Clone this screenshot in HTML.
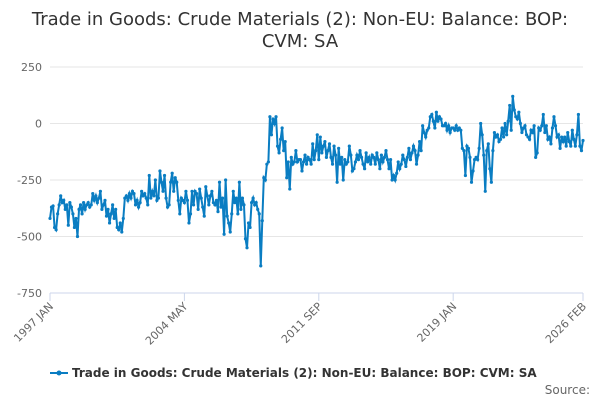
<!DOCTYPE html>
<html><head><meta charset="utf-8">
<style>
body{margin:0;background:#fff;width:600px;height:400px;overflow:hidden;font-family:"Liberation Sans","DejaVu Sans",sans-serif}
svg text{font-family:"DejaVu Sans","Liberation Sans",sans-serif}
</style></head><body>
<svg id="chart" width="600" height="400">
<text x="300" y="25" text-anchor="middle" font-size="18" fill="#333">Trade in Goods: Crude Materials (2): Non-EU: Balance: BOP:</text>
<text x="300" y="47" text-anchor="middle" font-size="18" fill="#333">CVM: SA</text>
<g id="grid"></g><g id="axes"></g><g id="series"></g>
<g>
<line x1="50" y1="373" x2="68" y2="373" stroke="#0a7dc2" stroke-width="2"/>
<circle cx="59" cy="373" r="2.5" fill="#0a7dc2"/>
<text x="72" y="377" font-size="12" font-weight="bold" fill="#333">Trade in Goods: Crude Materials (2): Non-EU: Balance: BOP: CVM: SA</text>
</g>
<text x="590" y="394" text-anchor="end" font-size="12" fill="#666">Source:</text>
</svg>
<script>
const yTicks=[250,0,-250,-500,-750];
const xTickLabels=["1997 JAN","2004 MAY","2011 SEP","2019 JAN","2026 FEB"];
const xTickIndex=[0,88,176,264,349];
const values=[
-420,-370,-365,-460,-470,-400,-360,-320,-350,-340,-380,-360,
-450,-350,-370,-400,-460,-420,-500,-380,-360,-400,-350,-380,
-360,-350,-370,-360,-310,-340,-320,-350,-330,-300,-380,-360,
-340,-410,-380,-440,-400,-360,-420,-380,-460,-470,-440,-480,
-420,-330,-320,-340,-310,-330,-300,-310,-360,-340,-370,-350,
-300,-320,-310,-330,-360,-230,-330,-300,-320,-250,-340,-330,
-210,-260,-300,-230,-330,-370,-360,-260,-220,-300,-240,-260,
-340,-400,-330,-340,-350,-300,-340,-440,-400,-300,-360,-300,
-310,-380,-290,-330,-370,-410,-280,-320,-360,-320,-300,-350,
-360,-340,-390,-260,-370,-330,-490,-250,-410,-440,-480,-400,
-300,-350,-330,-400,-260,-380,-330,-360,
-510,-550,-440,-460,-350,-330,-360,-350,-380,-400,-630,-430,
-240,-250,-180,-170,30,-50,20,0,30,-100,-130,-70,
-20,-120,-80,-240,-170,-290,-150,-180,-170,-120,-170,-160,
-160,-210,-170,-140,-180,-150,-160,-180,-90,-160,-120,-50,
-160,-60,-130,-100,-80,-150,-120,-90,-150,-180,-100,-140,
-260,-110,-180,-150,-250,-160,-180,-170,-100,-140,-210,-200,
-170,-140,-160,-120,-150,-180,-200,-130,-170,-150,-180,-140,
-150,-180,-130,-160,-200,-140,-170,-150,-120,-160,
-200,-160,-250,-230,-250,-220,-170,-200,-180,-140,-160,-190,
-150,-110,-160,-130,-100,-120,-180,-140,-80,-120,-10,-40,
-60,-30,-20,30,40,10,-20,50,10,30,20,-10,
-10,0,-30,-10,-40,-20,-20,-30,-10,-30,-20,-30,
-110,-120,-230,-100,-110,-150,-260,-210,-160,-150,-160,-110,
0,-50,-140,-300,-120,-90,-200,-260,-120,-40,-60,-50,
-80,-70,-20,-60,0,-50,10,80,-30,120,60,30,
20,50,0,-40,-20,-10,-50,-60,-70,-30,-40,-10,
-150,-130,-20,-30,-10,40,-40,-10,-70,-60,-90,-20,
30,-10,-60,-50,-110,-60,
-80,-60,-100,-40,-80,-100,-30,-70,-100,-50,40,-100,
-120,-75
];
const svg=document.getElementById('chart');
const NS='http://www.w3.org/2000/svg';
const x0=50,x1=583,yTop=67,yBot=293;
function xScale(i){return x0+(x1-x0)*i/(values.length-1);}
function yScale(v){return yTop+(250-v)/1000*(yBot-yTop);}
const grid=document.getElementById('grid');
yTicks.forEach(t=>{
  const l=document.createElementNS(NS,'line');
  l.setAttribute('x1',x0);l.setAttribute('x2',x1);
  l.setAttribute('y1',yScale(t));l.setAttribute('y2',yScale(t));
  l.setAttribute('stroke',t===-750?'#ccd6eb':'#e6e6e6');l.setAttribute('stroke-width',1);
  
  
  grid.appendChild(l);
  const tx=document.createElementNS(NS,'text');
  tx.setAttribute('x',42);tx.setAttribute('y',yScale(t)+4);
  tx.setAttribute('text-anchor','end');tx.setAttribute('font-size','11');tx.setAttribute('fill','#666');
  tx.textContent=t;
  
  
  grid.appendChild(tx);
});
const axes=document.getElementById('axes');
xTickIndex.forEach((idx,k)=>{
  const x=x0+(x1-x0)*idx/349;
  const tk=document.createElementNS(NS,'line');
  tk.setAttribute('x1',x);tk.setAttribute('x2',x);tk.setAttribute('y1',yBot);tk.setAttribute('y2',yBot+8);
  tk.setAttribute('stroke','#ccd6eb');
  
  
  axes.appendChild(tk);
  const tx=document.createElementNS(NS,'text');
  tx.setAttribute('transform','translate('+(x+4)+','+(yBot+14)+') rotate(-45)');
  tx.setAttribute('text-anchor','end');tx.setAttribute('font-size','11');tx.setAttribute('fill','#666');
  tx.textContent=xTickLabels[k];
  
  
  axes.appendChild(tx);
});
const g=document.getElementById('series');
const p=document.createElementNS(NS,'path');
p.setAttribute('d',values.map((v,i)=>(i?'L':'M')+xScale(i).toFixed(2)+' '+yScale(v).toFixed(2)).join(''));
p.setAttribute('fill','none');p.setAttribute('stroke','#0a7dc2');p.setAttribute('stroke-width','2');


g.appendChild(p);
values.forEach((v,i)=>{
  const c=document.createElementNS(NS,'circle');
  c.setAttribute('cx',xScale(i));c.setAttribute('cy',yScale(v));c.setAttribute('r',1.6);c.setAttribute('fill','#0a7dc2');
  
  
  g.appendChild(c);
});
</script>
</body></html>
